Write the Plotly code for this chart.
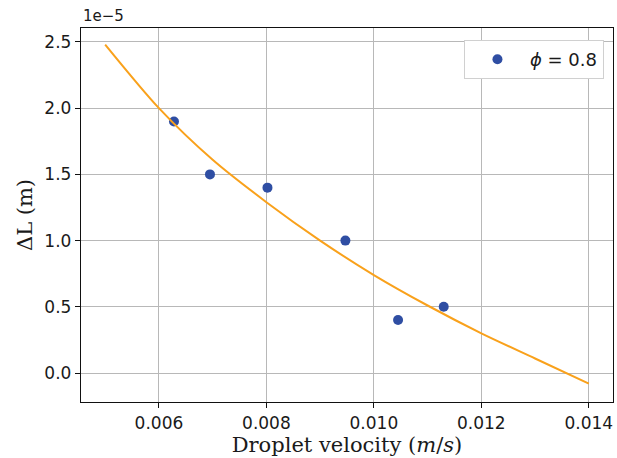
import plotly.graph_objects as go

# Measured points (velocity in m/s, ΔL in m)
velocity = [0.00628, 0.00695, 0.00802, 0.00947, 0.01045, 0.01130]
delta_L = [1.90e-5, 1.50e-5, 1.40e-5, 1.00e-5, 0.40e-5, 0.50e-5]

# Fitted curve
fit_v = [0.005, 0.006, 0.007, 0.008, 0.009, 0.010, 0.011, 0.012, 0.013, 0.014]
fit_L = [2.48e-5, 2.00e-5, 1.61e-5, 1.29e-5, 1.00e-5, 0.74e-5, 0.51e-5, 0.30e-5, 0.11e-5, -0.08e-5]

x_ticks = [0.006, 0.008, 0.010, 0.012, 0.014]
x_tick_labels = ["0.006", "0.008", "0.010", "0.012", "0.014"]
y_ticks = [0.0, 0.5e-5, 1.0e-5, 1.5e-5, 2.0e-5, 2.5e-5]
y_tick_labels = ["0.0", "0.5", "1.0", "1.5", "2.0", "2.5"]

fig = go.Figure()
fig.add_trace(go.Scatter(
    x=velocity, y=delta_L, mode="markers",
    marker=dict(color="#2f4ea3", size=10),
    name="<i>ϕ</i> = 0.8",
))
fig.add_trace(go.Scatter(
    x=fit_v, y=fit_L, mode="lines",
    line=dict(color="#f9a11b", width=2, shape="spline", smoothing=0.8),
    showlegend=False,
))

axis_common = dict(
    showline=True, linecolor="#111", linewidth=1.4, mirror=True,
    ticks="outside", ticklen=5, tickcolor="#111", tickwidth=1,
    showgrid=True, gridcolor="#b8b8b8", gridwidth=1, zeroline=False,
    tickfont=dict(family="DejaVu Sans", size=17, color="#1a1a1a"),
)

fig.update_layout(
    width=617, height=458,
    margin=dict(l=81, r=4, t=28, b=56),
    paper_bgcolor="white", plot_bgcolor="white",
    xaxis=dict(
        range=[0.00455, 0.01445], tickvals=x_ticks, ticktext=x_tick_labels,
        title=dict(text="Droplet velocity (<i>m</i>/<i>s</i>)",
                   font=dict(family="DejaVu Serif", size=21, color="#1a1a1a"), standoff=2),
        **axis_common,
    ),
    yaxis=dict(
        range=[-0.2187e-5, 2.6056e-5], tickvals=y_ticks, ticktext=y_tick_labels,
        title=dict(text="ΔL (m)",
                   font=dict(family="DejaVu Serif", size=21, color="#1a1a1a"), standoff=6),
        **axis_common,
    ),
    legend=dict(
        x=0.983, y=0.968, xanchor="right", yanchor="top",
        bgcolor="white", bordercolor="#d0d0d0", borderwidth=1,
        font=dict(family="DejaVu Sans", size=18, color="#1a1a1a"),
        itemwidth=55,
    ),
    annotations=[dict(
        text="1e−5", xref="paper", yref="paper", x=0, y=1,
        xanchor="left", yanchor="bottom", showarrow=False, yshift=1,
        font=dict(family="DejaVu Sans", size=15, color="#1a1a1a"),
    )],
)

fig.write_html("out.html")
